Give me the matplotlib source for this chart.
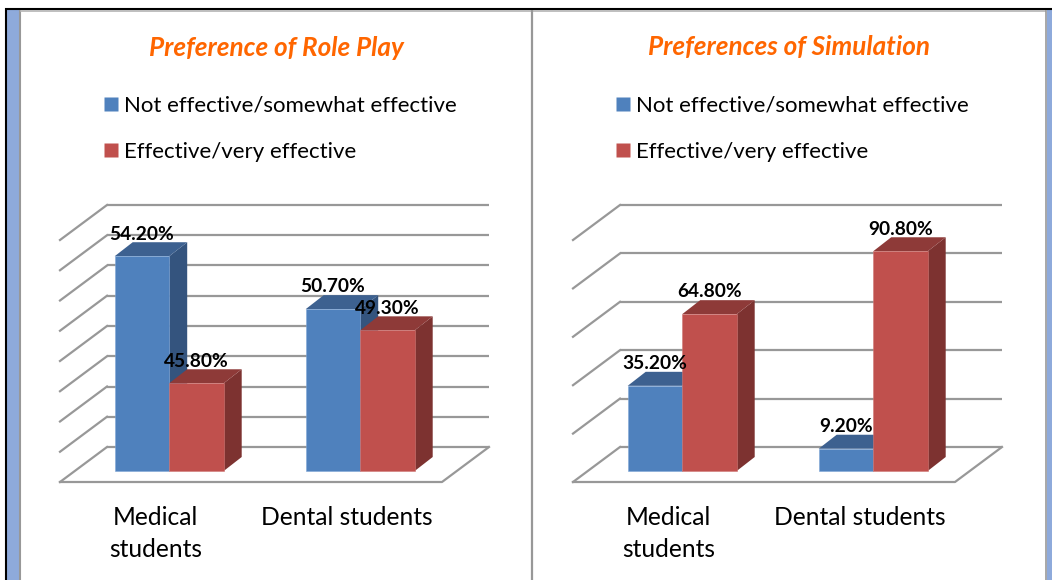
import matplotlib
matplotlib.use("Agg")
import matplotlib.pyplot as plt
from matplotlib.patches import Polygon, Rectangle
from matplotlib.lines import Line2D

W, H = 1052, 580
plt.rcParams['font.family'] = ['Lato', 'DejaVu Sans']

categories = ["Medical\nstudents", "Dental students"]
series_names = ["Not effective/somewhat effective", "Effective/very effective"]
role_play = [[54.2, 50.7], [45.8, 49.3]]
simulation = [[35.2, 9.2], [64.8, 90.8]]
role_ticks = [40, 42, 44, 46, 48, 50, 52, 54, 56]
sim_ticks = [0, 20, 40, 60, 80, 100]

FRONT = ["#4F81BD", "#C0504D"]
TOP = ["#3D6190", "#8E3A38"]
SIDE = ["#34547E", "#7D3230"]
GRID = "#989898"
ORANGE = "#FF6600"

fig = plt.figure(figsize=(W / 100, H / 100), dpi=100, facecolor="white")


def fx(px):
    return px / W


def fy(py):
    return 1 - py / H


def panel(left, title, title_x, values, ticks, legend_x):
    floor_w = 382
    y_front, y_base, y_back0, y_backtop = 482, 471, 447, 205
    ax = fig.add_axes([fx(left), fy(y_front), floor_w / W, (y_front - y_backtop) / H])
    vmin, vmax = ticks[0], ticks[-1]
    sy = (y_back0 - y_backtop) / (vmax - vmin)   # px per value
    sx = floor_w / 2                              # px per category
    ax.set_xlim(-0.5, 1.5)
    ax.set_ylim(vmin - (y_front - y_base) / sy, vmin + (y_base - y_backtop) / sy)
    ax.patch.set_visible(False)
    for s in ax.spines.values():
        s.set_visible(False)
    ax.set_yticks([])
    ax.set_xticks(range(len(categories)))
    ax.set_xticklabels(categories, fontsize=17.7, color="black", linespacing=1.47)
    ax.tick_params(axis="x", length=0, pad=17.4)

    # walls: a grid line on the back wall and its run down the side wall
    deep_x, deep_y = 47 / sx, 35 / sy
    wall_up = (y_base - y_back0) / sy
    x0, x1 = -0.5, 1.5
    for t in ticks:
        yb = t + wall_up
        ax.plot([x0 + deep_x, x1 + deep_x], [yb, yb], color=GRID, lw=1.6,
                clip_on=False, zorder=1, solid_capstyle="butt")
        ax.plot([x0, x0 + deep_x], [yb - deep_y, yb], color=GRID, lw=1.6,
                clip_on=False, zorder=1)
    yf = vmin + wall_up - deep_y
    ax.plot([x0, x1, x1 + deep_x], [yf, yf, yf + deep_y], color=GRID, lw=1.6,
            clip_on=False, zorder=1)

    # bars
    shift = 13.7 / sx
    bw = 54.5 / sx
    dx, dy = 18 / sx, 14 / sy
    for c in range(len(categories)):
        for s in range(2):
            v = values[s][c]
            xl = c + shift + (s - 1) * bw
            xr = xl + bw
            ax.add_patch(Polygon([(xr, vmin), (xr + dx, vmin + dy), (xr + dx, v + dy), (xr, v)],
                                 fc=SIDE[s], ec="none", clip_on=False, zorder=2 + c + s * 0.1))
            ax.add_patch(Polygon([(xl, v), (xl + dx, v + dy), (xr + dx, v + dy), (xr, v)],
                                 fc=TOP[s], ec="none", clip_on=False, zorder=2 + c + s * 0.1))
            ax.bar(xl, v - vmin, bw, bottom=vmin, align="edge", color=FRONT[s],
                   edgecolor="#7FA6D6" if s == 0 else "#D07A77", linewidth=0.4,
                   clip_on=False, zorder=2.05 + c + s * 0.1)
    for c in range(len(categories)):
        for s in range(2):
            v = values[s][c]
            xm = c + shift + (s - 0.5) * bw
            ax.text(xm, v + 22.2 / sy, f"{v:.2f}%", ha="center", va="center", fontsize=13.8,
                    fontweight="bold", color="black", clip_on=False, zorder=10)

    fig.text(fx(title_x), fy(55.5), title, ha="center", va="baseline", color=ORANGE,
             fontsize=18.8, fontweight="bold", fontstyle="italic")

    handles = [Line2D([], [], marker="s", ls="none", ms=10, mfc=FRONT[i], mec="none") for i in range(2)]
    ax.legend(handles, series_names, loc="upper left",
              bbox_to_anchor=(fx(legend_x), fy(96)), bbox_transform=fig.transFigure,
              frameon=False, fontsize=16, handlelength=0.85, handletextpad=0.15,
              labelspacing=1.16, borderpad=0, borderaxespad=0)


panel(60, "Preference of Role Play", 276, role_play, role_ticks, 101.5)
panel(573, "Preferences of Simulation", 789, simulation, sim_ticks, 613.5)

# page frame
bg = fig.add_axes([0, 0, 1, 1], zorder=-1)
bg.set_xlim(0, W)
bg.set_ylim(H, 0)
bg.axis("off")
bg.add_patch(Rectangle((7, 9), 12.5, H, fc="#8EAADB", ec="none"))
bg.add_patch(Rectangle((1046.5, 9), 6, H, fc="#8EAADB", ec="none"))
bg.plot([6, 6], [8, H], color="black", lw=1.5, solid_capstyle="butt")
bg.plot([5, W], [8.8, 8.8], color="black", lw=1.5, solid_capstyle="butt")
bg.plot([20, 20], [10, H], color=GRID, lw=1.5, solid_capstyle="butt")
bg.plot([20, 1046], [10.6, 10.6], color="#B4B4B4", lw=1.2, solid_capstyle="butt")
bg.plot([532, 532], [10, H], color=GRID, lw=1.6, solid_capstyle="butt")
bg.plot([1046, 1046], [10, H], color=GRID, lw=1.2, solid_capstyle="butt")

fig.savefig("out.png", dpi=100)
